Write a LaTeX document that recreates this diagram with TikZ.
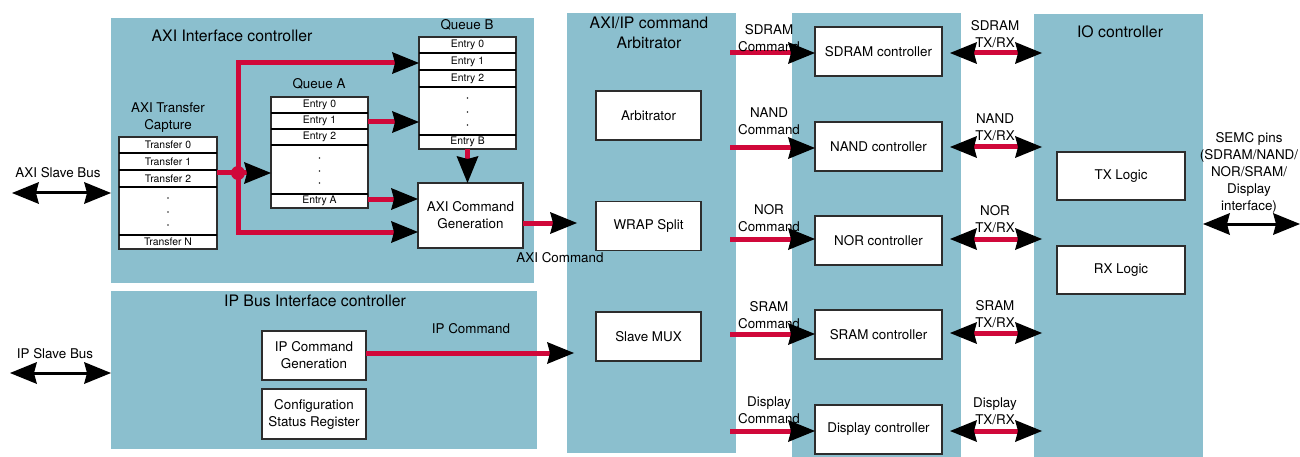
\documentclass[tikz,border=0pt]{standalone}
\usepackage{fontspec}
\setmainfont{TeX Gyre Heros}
\usetikzlibrary{arrows.meta}
\definecolor{panelblue}{RGB}{139,191,206}
\definecolor{cmdred}{RGB}{208,8,58}
\definecolor{boxgray}{RGB}{45,45,45}
\newcommand{\ttlfont}{\fontsize{15.8}{20}\selectfont}
\newcommand{\lblfont}{\fontsize{13.4}{17}\selectfont}
\newcommand{\smlfont}{\fontsize{10.4}{12}\selectfont}
\tikzset{
  >={Stealth[length=27pt,width=22pt,inset=3pt,line width=0pt,black]},
  panel/.style={fill=panelblue, draw=none, inner sep=0pt, outer sep=0pt},
  box/.style={draw=boxgray, line width=1.6pt, fill=white, inner sep=0pt, outer sep=0pt, align=center, font=\lblfont},
  tbl/.style={draw=boxgray, line width=1.6pt, fill=white, inner sep=0pt, outer sep=0pt},
  rowtxt/.style={font=\smlfont, inner sep=0pt},
  rowsep/.style={line width=1.8pt, draw=black},
  lab/.style={font=\lblfont, align=center, inner sep=0pt},
  ttl/.style={font=\ttlfont, align=center, inner sep=0pt},
  redline/.style={draw=cmdred, line width=5pt},
  redarr/.style={draw=cmdred, line width=5pt, ->},
  txrx/.style={draw=cmdred, line width=5pt, <->},
  busarr/.style={draw=black, line width=3pt, <->},
  dotfill/.style={fill=boxgray},
}
\begin{document}
\begin{tikzpicture}[x=1pt,y=-1pt]
\useasboundingbox (0,0) rectangle (1300,457);

% ---------- panels ----------
\node[panel, minimum width=423pt, minimum height=265pt] (axip) at (322.5,150.5) {};
\node[panel, minimum width=426pt, minimum height=158pt] (ipp) at (324,370) {};
\node[panel, minimum width=169pt, minimum height=440pt] (arbp) at (651.5,233) {};
\node[panel, minimum width=169pt, minimum height=444pt] (ctlp) at (876.5,235) {};
\node[panel, minimum width=169pt, minimum height=443pt] (iop) at (1118.5,235.5) {};

\node[ttl] (axit) at (232,36) {AXI Interface controller};
\node[ttl] (ipt) at (315,301) {IP Bus Interface controller};
\node[ttl] (arbt) at (649,33) {AXI/IP command\\Arbitrator};
\node[ttl] (iot) at (1120,32) {IO controller};

% ---------- AXI transfer capture ----------
\node[lab] (xfert) at (168,118) {AXI Transfer\\Capture};
\node[tbl, minimum width=98pt, minimum height=112pt] (xfer) at (168,193) {};
\foreach \yy in {153,170,187,235}{\draw[rowsep] (xfer.west |- 0,\yy) -- (xfer.east |- 0,\yy);}
\node[rowtxt] (x0) at (xfer.center |- 0,145) {Transfer 0};
\node[rowtxt] (x1) at (xfer.center |- 0,161.5) {Transfer 1};
\node[rowtxt] (x2) at (xfer.center |- 0,178.5) {Transfer 2};
\node[rowtxt] (xn) at (xfer.center |- 0,242) {Transfer N};
\foreach \yy in {198,212,225}{\fill[dotfill] (xfer.center |- 0,\yy) circle (0.9pt);}

% ---------- Queue A ----------
\node[lab] (qat) at (319,84) {Queue A};
\node[tbl, minimum width=97pt, minimum height=111pt] (qa) at (319.5,152.5) {};
\foreach \yy in {113,129,145,194}{\draw[rowsep] (qa.west |- 0,\yy) -- (qa.east |- 0,\yy);}
\node[rowtxt] (qa0) at (qa.center |- 0,105) {Entry 0};
\node[rowtxt] (qa1) at (qa.center |- 0,121) {Entry 1};
\node[rowtxt] (qa2) at (qa.center |- 0,137) {Entry 2};
\node[rowtxt] (qan) at (qa.center |- 0,201) {Entry A};
\foreach \yy in {158,171,183}{\fill[dotfill] (qa.center |- 0,\yy) circle (0.9pt);}

% ---------- Queue B ----------
\node[lab] (qbt) at (467,25) {Queue B};
\node[tbl, minimum width=97pt, minimum height=112pt] (qb) at (467.5,93) {};
\foreach \yy in {53,70,87,135}{\draw[rowsep] (qb.west |- 0,\yy) -- (qb.east |- 0,\yy);}
\node[rowtxt] (qb0) at (qb.center |- 0,45) {Entry 0};
\node[rowtxt] (qb1) at (qb.center |- 0,61.5) {Entry 1};
\node[rowtxt] (qb2) at (qb.center |- 0,78.5) {Entry 2};
\node[rowtxt] (qbn) at (qb.center |- 0,142) {Entry B};
\foreach \yy in {98,112,125}{\fill[dotfill] (qb.center |- 0,\yy) circle (0.9pt);}

% ---------- AXI command generation ----------
\node[box, minimum width=105pt, minimum height=65pt] (cmd) at (470.5,215.5) {AXI Command\\Generation};

% ---------- IP bus ----------
\node[box, minimum width=104pt, minimum height=49pt] (ipcmd) at (314,355.5) {IP Command\\Generation};
\node[box, minimum width=104pt, minimum height=50pt] (cfg) at (314,414) {Configuration\\Status Register};

% ---------- Arbitrator ----------
\node[box, minimum width=105pt, minimum height=49pt] (arb) at (648.5,115.5) {Arbitrator};
\node[box, minimum width=105pt, minimum height=49pt] (wrap) at (648.5,226) {WRAP Split};
\node[box, minimum width=105pt, minimum height=49pt] (mux) at (648.5,336.5) {Slave MUX};

% ---------- Controllers ----------
\node[box, minimum width=127pt, minimum height=49pt] (sdram) at (878.5,51.5) {SDRAM controller};
\node[box, minimum width=127pt, minimum height=49pt] (nand) at (878.5,146.5) {NAND controller};
\node[box, minimum width=127pt, minimum height=49pt] (nor) at (878.5,240.5) {NOR controller};
\node[box, minimum width=127pt, minimum height=49pt] (sram) at (878.5,334.5) {SRAM controller};
\node[box, minimum width=127pt, minimum height=49pt] (disp) at (878.5,429.5) {Display controller};

% ---------- IO ----------
\node[box, minimum width=128pt, minimum height=48pt] (txl) at (1121,176) {TX Logic};
\node[box, minimum width=128pt, minimum height=48pt] (rxl) at (1121,270) {RX Logic};

% ---------- helper coordinates ----------
\coordinate (jn) at (238,173);
\coordinate (arbout) at (730,0);
\coordinate (axiin) at (577,0);
\coordinate (ipin) at (574,0);
\coordinate (tl) at (950,0);
\coordinate (tr) at (1042,0);
\coordinate (axiend) at (12,193);
\coordinate (ipend) at (10,373);
\coordinate (semcend) at (1300,224);

% ---------- AXI red connectors ----------
\draw[redline] (xfer.east |- jn) -- (jn);
\draw[redarr] (jn) -- (qa.west |- jn);
\draw[redarr] (jn) |- (qb.west |- 0,63);
\draw[redarr] (jn) |- (cmd.west |- 0,232);
\fill[cmdred] (jn) circle (7pt);
\draw[redarr] (qa.east |- 0,122) -- (qb.west |- 0,122);
\draw[redarr] (qa.east |- 0,199) -- (cmd.west |- 0,199);
\draw[redarr] (qb.south) -- (qb.south |- cmd.north);
\draw[redarr] (cmd.east |- 0,223) -- (axiin |- 0,223);
\node[lab] (axicl) at (560,258) {AXI Command};

% ---------- IP red connector ----------
\draw[redarr] (ipcmd.east |- 0,353) -- (ipin |- 0,353);
\node[lab] (ipcl) at (471,329) {IP Command};

% ---------- bus arrows ----------
\draw[busarr] (axiend) -- (axip.west |- axiend);
\node[lab] (axisb) at (58,173) {AXI Slave Bus};
\draw[busarr] (ipend) -- (ipp.west |- ipend);
\node[lab] (ipsb) at (55,354) {IP Slave Bus};
\draw[busarr] (iop.east |- semcend) -- (semcend);
\node[lab] (semcl) at (1249,172.5) {SEMC pins\\(SDRAM/NAND/\\NOR/SRAM/\\Display\\interface)};

% ---------- command arrows ----------
\draw[redarr] (arbout |- 0,53) -- (sdram.west |- 0,53);
\draw[redarr] (arbout |- 0,148) -- (nand.west |- 0,148);
\draw[redarr] (arbout |- 0,239) -- (nor.west |- 0,239);
\draw[redarr] (arbout |- 0,334) -- (sram.west |- 0,334);
\draw[redarr] (arbout |- 0,431) -- (disp.west |- 0,431);
\node[lab] (c1) at (769,38) {SDRAM\\Command};
\node[lab] (c2) at (769,121) {NAND\\Command};
\node[lab] (c3) at (769,218) {NOR\\Command};
\node[lab] (c4) at (769,315) {SRAM\\Command};
\node[lab] (c5) at (769,410) {Display\\Command};

% ---------- TX/RX arrows ----------
\draw[txrx] (tl |- 0,53) -- (tr |- 0,53);
\draw[txrx] (tl |- 0,147) -- (tr |- 0,147);
\draw[txrx] (tl |- 0,239) -- (tr |- 0,239);
\draw[txrx] (tl |- 0,333) -- (tr |- 0,333);
\draw[txrx] (tl |- 0,431) -- (tr |- 0,431);
\node[lab] (r1) at (995,34) {SDRAM\\TX/RX};
\node[lab] (r2) at (995,127.5) {NAND\\TX/RX};
\node[lab] (r3) at (995,219.5) {NOR\\TX/RX};
\node[lab] (r4) at (995,314.5) {SRAM\\TX/RX};
\node[lab] (r5) at (995,411) {Display\\TX/RX};
\end{tikzpicture}
\end{document}
